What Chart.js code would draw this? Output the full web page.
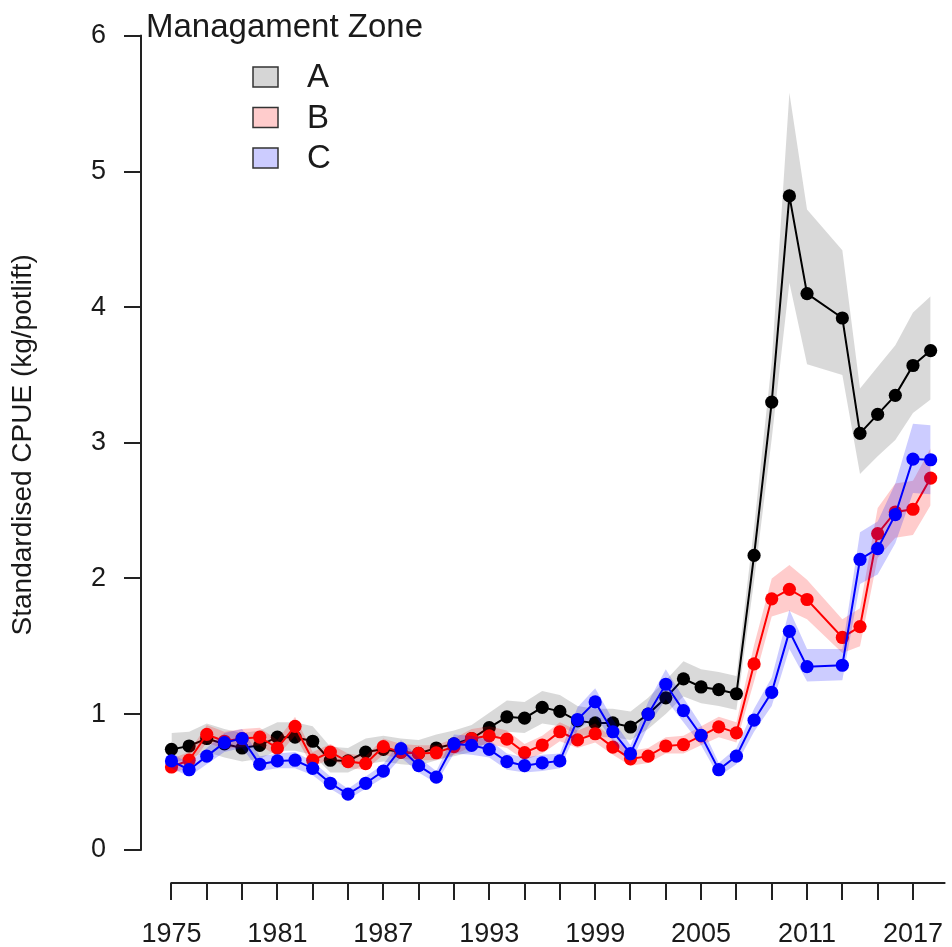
<!DOCTYPE html>
<html>
<head>
<meta charset="utf-8">
<title>Standardised CPUE by management zone</title>
<script src="https://cdn.jsdelivr.net/npm/chart.js@4/dist/chart.umd.min.js"></script>
<style>
  html, body { margin: 0; padding: 0; background: #fff; }
  #cpue { display: block; }
</style>
</head>
<body>
<canvas id="cpue" width="952" height="947"></canvas>
<script>
// survey years (no estimate for 2012)
const years = [1975, 1976, 1977, 1978, 1979, 1980, 1981, 1982, 1983, 1984,
    1985, 1986, 1987, 1988, 1989, 1990, 1991, 1992, 1993, 1994,
    1995, 1996, 1997, 1998, 1999, 2000, 2001, 2002, 2003, 2004,
    2005, 2006, 2007, 2008, 2009, 2010, 2011, 2013, 2014, 2015,
    2016, 2017, 2018];

const zoneA = [0.74, 0.765, 0.82, 0.78, 0.75, 0.77, 0.83, 0.83, 0.80, 0.66,
    0.655, 0.72, 0.74, 0.72, 0.71, 0.75, 0.78, 0.82, 0.90, 0.98,
    0.97, 1.05, 1.02, 0.95, 0.935, 0.935, 0.905, 1.00, 1.12, 1.26,
    1.20, 1.18, 1.15, 2.17, 3.30, 4.82, 4.10, 3.92, 3.07, 3.21,
    3.35, 3.57, 3.68];
const zoneALow = [0.64, 0.67, 0.72, 0.68, 0.65, 0.67, 0.73, 0.73, 0.70, 0.57,
    0.57, 0.63, 0.65, 0.63, 0.62, 0.66, 0.69, 0.72, 0.80, 0.87,
    0.86, 0.93, 0.91, 0.85, 0.83, 0.83, 0.81, 0.89, 1.00, 1.13,
    1.08, 1.06, 1.03, 1.98, 3.03, 4.18, 3.58, 3.50, 2.77, 2.90,
    3.02, 3.22, 3.32];
const zoneAHigh = [0.86, 0.87, 0.93, 0.89, 0.86, 0.88, 0.94, 0.94, 0.91, 0.76,
    0.75, 0.82, 0.84, 0.82, 0.81, 0.85, 0.88, 0.92, 1.01, 1.10,
    1.09, 1.17, 1.14, 1.06, 1.04, 1.04, 1.02, 1.12, 1.25, 1.39,
    1.33, 1.31, 1.28, 2.38, 3.60, 5.58, 4.72, 4.42, 3.40, 3.56,
    3.72, 3.96, 4.08];

const zoneB = [0.61, 0.66, 0.85, 0.80, 0.82, 0.83, 0.75, 0.91, 0.66, 0.72,
    0.65, 0.635, 0.76, 0.72, 0.71, 0.715, 0.76, 0.82, 0.84, 0.815,
    0.716, 0.772, 0.87, 0.81, 0.855, 0.757, 0.67, 0.69, 0.765, 0.775,
    0.84, 0.906, 0.862, 1.37, 1.85, 1.92, 1.845, 1.565, 1.645, 2.33,
    2.49, 2.51, 2.74];
const zoneBLow = [0.56, 0.61, 0.79, 0.74, 0.76, 0.77, 0.69, 0.84, 0.61, 0.67,
    0.60, 0.59, 0.70, 0.67, 0.66, 0.66, 0.70, 0.76, 0.78, 0.75,
    0.66, 0.71, 0.80, 0.75, 0.79, 0.70, 0.62, 0.64, 0.71, 0.71,
    0.77, 0.83, 0.79, 1.24, 1.72, 1.76, 1.70, 1.45, 1.50, 2.15,
    2.30, 2.32, 2.54];
const zoneBHigh = [0.67, 0.72, 0.92, 0.87, 0.89, 0.90, 0.81, 0.98, 0.72, 0.78,
    0.71, 0.69, 0.82, 0.78, 0.77, 0.77, 0.82, 0.89, 0.91, 0.88,
    0.78, 0.84, 0.94, 0.88, 0.93, 0.82, 0.73, 0.75, 0.83, 0.84,
    0.91, 0.98, 0.94, 1.51, 2.00, 2.10, 1.99, 1.70, 1.78, 2.52,
    2.70, 2.72, 2.96];

const zoneC = [0.655, 0.59, 0.69, 0.79, 0.82, 0.63, 0.655, 0.66, 0.60, 0.49,
    0.41, 0.49, 0.58, 0.745, 0.62, 0.535, 0.78, 0.77, 0.74, 0.65,
    0.62, 0.64, 0.655, 0.96, 1.09, 0.87, 0.708, 1.00, 1.22, 1.026,
    0.843, 0.59, 0.69, 0.955, 1.16, 1.61, 1.35, 1.36, 2.14, 2.22,
    2.47, 2.88, 2.875];
const zoneCLow = [0.60, 0.54, 0.63, 0.72, 0.75, 0.58, 0.60, 0.60, 0.55, 0.45,
    0.37, 0.45, 0.53, 0.68, 0.57, 0.49, 0.71, 0.70, 0.68, 0.59,
    0.57, 0.58, 0.60, 0.88, 0.99, 0.80, 0.64, 0.91, 1.11, 0.94,
    0.77, 0.54, 0.63, 0.87, 1.06, 1.48, 1.24, 1.25, 1.96, 2.03,
    2.26, 2.63, 2.62];
const zoneCHigh = [0.71, 0.64, 0.75, 0.86, 0.89, 0.69, 0.71, 0.72, 0.65, 0.54,
    0.45, 0.54, 0.63, 0.81, 0.68, 0.58, 0.85, 0.84, 0.81, 0.71,
    0.68, 0.70, 0.71, 1.05, 1.19, 0.96, 0.77, 1.09, 1.33, 1.12,
    0.92, 0.64, 0.75, 1.04, 1.27, 1.77, 1.48, 1.48, 2.34, 2.42,
    2.70, 3.14, 3.13];

const zoneNames = ['A', 'B', 'C'];
const lineColours = ['#000000', '#ff0000', '#0000ff'];
const bandColours = ['rgba(0,0,0,0.15)', 'rgba(255,0,0,0.2)', 'rgba(0,0,255,0.2)'];
const legendFills = ['#d6d6d6', '#ffcccc', '#ccccff'];

const xTickYears = [1975, 1977, 1979, 1981, 1983, 1985, 1987, 1989, 1991, 1993, 1995,
    1997, 1999, 2001, 2003, 2005, 2007, 2009, 2011, 2013, 2015, 2017];
const xLabelYears = [1975, 1981, 1987, 1993, 1999, 2005, 2011, 2017];
const yTicks = [0, 1, 2, 3, 4, 5, 6];

const fontFamily = "'Liberation Sans', Arial, sans-serif";
const inkColour = '#1a1a1a';

function points(values) {
    return years.map((yr, i) => ({x: yr, y: values[i]}));
}

const series = [
    {mid: zoneA, lo: zoneALow, hi: zoneAHigh},
    {mid: zoneB, lo: zoneBLow, hi: zoneBHigh},
    {mid: zoneC, lo: zoneCLow, hi: zoneCHigh}
];

// each zone: upper bound filled down to lower bound, then the line with points.
// higher order is drawn first, so A sits underneath and C on top
const datasets = [];
series.forEach((s, k) => {
    const base = (series.length - k) * 2;
    datasets.push({
        label: zoneNames[k] + ' upper',
        data: points(s.hi),
        borderWidth: 0,
        pointRadius: 0,
        backgroundColor: bandColours[k],
        fill: '+1',
        order: base
    });
    datasets.push({
        label: zoneNames[k] + ' lower',
        data: points(s.lo),
        borderWidth: 0,
        pointRadius: 0,
        fill: false,
        order: base
    });
    datasets.push({
        label: zoneNames[k],
        data: points(s.mid),
        borderColor: lineColours[k],
        borderWidth: 2,
        pointRadius: 6.6,
        pointBorderWidth: 0,
        pointBackgroundColor: lineColours[k],
        fill: false,
        order: base - 1
    });
});

// detached R-style axis lines, spanning only the tick range
const axisLines = {
    id: 'axisLines',
    afterDraw(chart) {
        const {ctx, scales: {x, y}} = chart;
        ctx.save();
        ctx.strokeStyle = '#222';
        ctx.lineWidth = 2;
        ctx.beginPath();
        ctx.moveTo(x.left, y.getPixelForValue(yTicks[0]) + 1);
        ctx.lineTo(x.left, y.getPixelForValue(yTicks[yTicks.length - 1]) - 1);
        ctx.moveTo(x.getPixelForValue(xTickYears[0]) - 1, y.bottom);
        ctx.lineTo(x.right, y.bottom);
        ctx.stroke();
        ctx.restore();
    }
};

const zoneLegend = {
    id: 'zoneLegend',
    afterDraw(chart) {
        const ctx = chart.ctx;
        ctx.save();
        ctx.fillStyle = inkColour;
        ctx.textBaseline = 'middle';
        ctx.textAlign = 'left';
        ctx.font = '33px ' + fontFamily;
        ctx.fillText('Managament Zone', 146, 28);
        zoneNames.forEach((name, k) => {
            const cy = 77 + k * 40.5;
            ctx.fillStyle = legendFills[k];
            ctx.fillRect(253, cy - 10, 25, 20);
            ctx.strokeStyle = '#333';
            ctx.lineWidth = 1.5;
            ctx.strokeRect(253, cy - 10, 25, 20);
            ctx.fillStyle = inkColour;
            ctx.fillText(name, 307, cy + 1);
        });
        ctx.restore();
    }
};

new Chart(document.getElementById('cpue'), {
    type: 'line',
    data: {datasets: datasets},
    plugins: [axisLines, zoneLegend],
    options: {
        responsive: false,
        devicePixelRatio: 1,
        animation: false,
        layout: {padding: 0},
        plugins: {
            legend: {display: false},
            tooltip: {enabled: false}
        },
        elements: {line: {tension: 0}},
        scales: {
            x: {
                type: 'linear',
                min: 1973.275,
                max: 2018.837,
                grid: {drawOnChartArea: false, drawTicks: true, tickLength: 17, color: '#222', lineWidth: 2},
                border: {display: false},
                afterBuildTicks: scale => {
                    scale.ticks = xTickYears.map(v => ({value: v}));
                },
                afterFit: scale => {
                    scale.height = 64;
                    scale.paddingLeft = 0;
                    scale.paddingRight = 0;
                },
                ticks: {
                    autoSkip: false,
                    maxRotation: 0,
                    padding: 18,
                    color: inkColour,
                    font: {family: fontFamily, size: 27},
                    callback: v => xLabelYears.includes(v) ? String(v) : ''
                }
            },
            y: {
                min: -0.2451,
                max: 6.2157,
                grid: {drawOnChartArea: false, drawTicks: true, tickLength: 17, color: '#222', lineWidth: 2},
                border: {display: false},
                afterBuildTicks: scale => {
                    scale.ticks = yTicks.map(v => ({value: v}));
                },
                afterFit: scale => {
                    scale.width = 141;
                    scale.paddingTop = 0;
                    scale.paddingBottom = 0;
                },
                title: {
                    display: true,
                    text: 'Standardised CPUE (kg/potlift)',
                    color: inkColour,
                    font: {family: fontFamily, size: 28},
                    padding: {top: 6, bottom: 0}
                },
                ticks: {
                    padding: 18,
                    color: inkColour,
                    font: {family: fontFamily, size: 27}
                }
            }
        }
    }
});
</script>
</body>
</html>
